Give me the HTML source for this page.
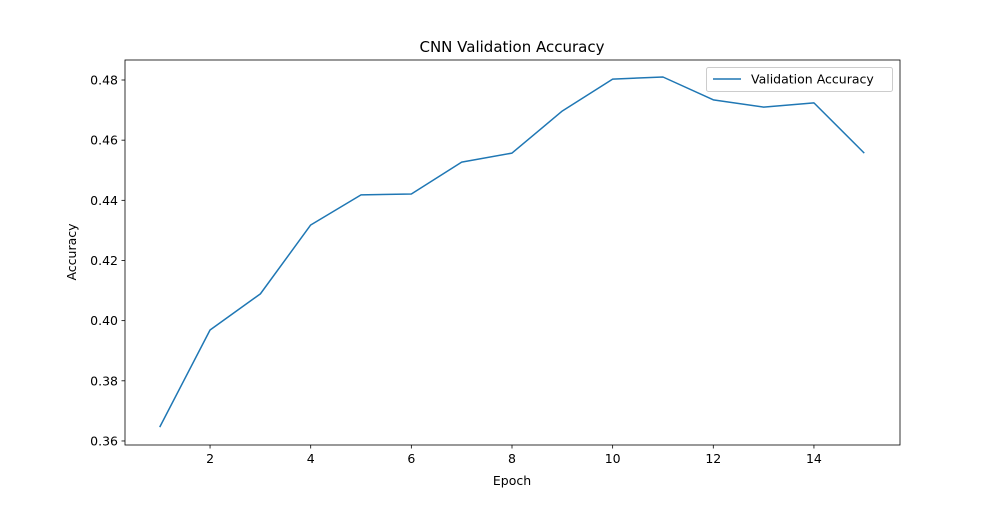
<!DOCTYPE html>
<html><head><meta charset="utf-8"><style>
body{margin:0;background:#fff}
svg text{font-family:"DejaVu Sans","Liberation Sans",sans-serif;fill:#000}
</style></head><body>
<svg width="1000" height="500" viewBox="0 0 1000 500">
<rect width="1000" height="500" fill="#fff"/>
<g id="plot"></g>
</svg>
<script>
const epochs=[1,2,3,4,5,6,7,8,9,10,11,12,13,14,15];
const accuracy=[0.3646,0.3969,0.4089,0.4318,0.4418,0.4421,0.4527,0.4557,0.4697,0.4803,0.481,0.4734,0.471,0.4724,0.4557];
const xTicks=[2,4,6,8,10,12,14];
const yTicks=[0.36,0.38,0.40,0.42,0.44,0.46,0.48];
const L=125,R=900,T=60,B=445;
const x0=0.31,x1=15.71,y0=0.35866,y1=0.48665;
const sx=v=>L+(v-x0)/(x1-x0)*(R-L);
const sy=v=>B-(v-y0)/(y1-y0)*(B-T);
const NS='http://www.w3.org/2000/svg';
const g=document.getElementById('plot');
function mk(t,a,txt){const e=document.createElementNS(NS,t);for(const k in a)e.setAttribute(k,a[k]);if(txt!==undefined)e.textContent=txt;g.appendChild(e);return e;}
xTicks.forEach(v=>{
 const t=mk('line',{x1:sx(v),x2:sx(v),y1:B,y2:B+3.5,stroke:'#000','stroke-width':0.8});
 
 
 const l=mk('text',{x:sx(v),y:B+18,'text-anchor':'middle','font-size':12.5},String(v));
 
 
});
yTicks.forEach(v=>{
 const t=mk('line',{x1:L-3.5,x2:L,y1:sy(v),y2:sy(v),stroke:'#000','stroke-width':0.8});
 
 
 const l=mk('text',{x:L-7,y:sy(v)+4.5,'text-anchor':'end','font-size':12.5},v.toFixed(2));
 
 
});
const p=mk('polyline',{points:epochs.map((e,i)=>sx(e)+','+sy(accuracy[i])).join(' '),fill:'none',stroke:'#1f77b4','stroke-width':1.5,'stroke-linejoin':'round'});


const fr=mk('rect',{x:L,y:T,width:R-L,height:B-T,fill:'none',stroke:'#000','stroke-width':0.8});


</script>
<svg style="position:absolute;left:0;top:0" width="1000" height="500">
<text x="512" y="52" text-anchor="middle" font-size="15">CNN Validation Accuracy</text>
<text x="512" y="485" text-anchor="middle" font-size="12.5">Epoch</text>
<text transform="translate(76,252) rotate(-90)" text-anchor="middle" font-size="12.5">Accuracy</text>
<g>
<rect x="706.5" y="67.5" width="186" height="24" rx="2" fill="#fff" fill-opacity="0.8" stroke="#ccc"/>
<line x1="713" x2="741" y1="79" y2="79" stroke="#1f77b4" stroke-width="1.5"/>
<text x="751" y="83.5" font-size="12.5">Validation Accuracy</text>
</g>
</svg>
</body></html>
